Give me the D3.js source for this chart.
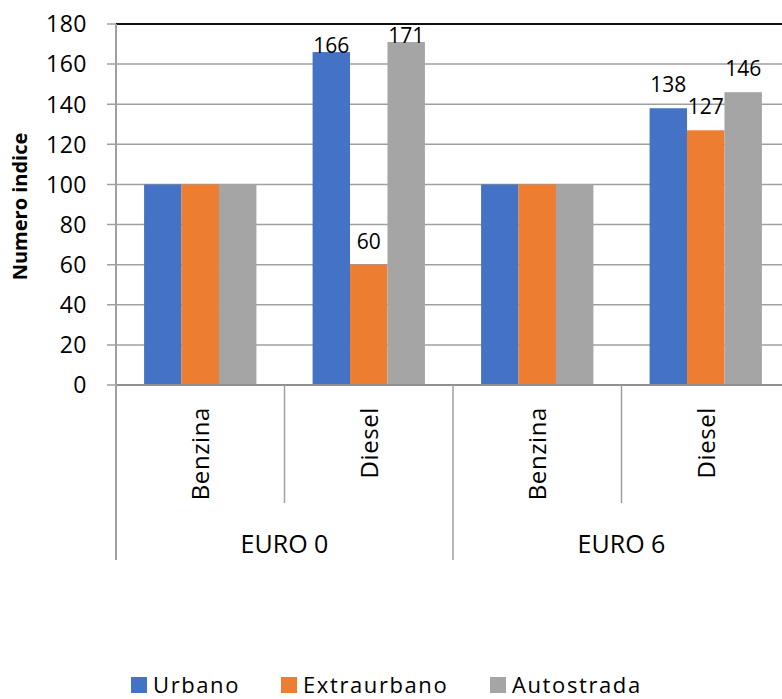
<!DOCTYPE html>
<html>
<head>
<meta charset="utf-8">
<script src="https://cdn.jsdelivr.net/npm/d3@7"></script>
<style>
  html, body { margin: 0; padding: 0; background: #fff; }
  svg { display: block; }
  text { font-family: "Open Sans", sans-serif; fill: #000; }
</style>
</head>
<body>
<svg id="chart" width="782" height="699"></svg>
<script>
// Emission index (base 100 = petrol) by standard, fuel and driving cycle
const groups = ["EURO 0", "EURO 6"];
const fuels = ["Benzina", "Diesel"];
const series = ["Urbano", "Extraurbano", "Autostrada"];
const urbano = [100, 166, 100, 138];
const extraurbano = [100, 60, 100, 127];
const autostrada = [100, 171, 100, 146];
const yTicks = [0, 20, 40, 60, 80, 100, 120, 140, 160, 180];
const colors = ["#4472C4", "#ED7D31", "#A5A5A5"];

const categories = groups.flatMap(g => fuels.map(f => g + "|" + f));
const values = [urbano, extraurbano, autostrada];

const svg = d3.select("#chart");
const plotLeft = 116, plotRight = 790, plotTop = 24, plotBottom = 385;

const x = d3.scaleBand().domain(categories).range([plotLeft, plotRight]).paddingInner(0).paddingOuter(0);
const bandInner = x.bandwidth() / 4.5 * 3; // gap width 150%
const xs = d3.scaleBand().domain(series).range([0, bandInner]);
const y = d3.scaleLinear().domain([0, 180]).range([plotBottom, plotTop]);

// horizontal gridlines with ticks extending left
const grid = svg.append("g");
grid.selectAll("line").data(yTicks).join("line")
  .attr("x1", plotLeft - 9).attr("x2", 782)
  .attr("y1", d => y(d)).attr("y2", d => y(d))
  .attr("stroke", "#A0A0A0").attr("stroke-width", 1.5);
// top gridline drawn darker inside the plot
grid.append("line")
  .attr("x1", plotLeft).attr("x2", 782)
  .attr("y1", y(180)).attr("y2", y(180))
  .attr("stroke", "#111").attr("stroke-width", 1.8);

// y axis labels
svg.append("g").selectAll("text").data(yTicks).join("text")
  .attr("x", 87).attr("y", d => y(d))
  .attr("dy", "0.36em")
  .attr("text-anchor", "end")
  .style("font-size", "23px")
  .style("letter-spacing", "0.5px")
  .text(d => d);

// y axis title
svg.append("text")
  .attr("transform", `translate(27,${(plotTop + plotBottom) / 2 + 2}) rotate(-90)`)
  .attr("text-anchor", "middle")
  .style("font-size", "20px").style("font-weight", "bold")
  .text("Numero indice");

// bars
const barData = [];
categories.forEach((c, i) => {
  series.forEach((s, k) => {
    barData.push({ cat: c, series: s, k, value: values[k][i] });
  });
});
const gap = (x.bandwidth() - bandInner) / 2;
svg.append("g").selectAll("rect").data(barData).join("rect")
  .attr("x", d => x(d.cat) + gap + xs(d.series))
  .attr("y", d => y(d.value))
  .attr("width", xs.bandwidth())
  .attr("height", d => y(0) - y(d.value))
  .attr("fill", d => colors[d.k]);

// data labels above bars that differ from the base index
const labelSize = 21;
svg.append("g").selectAll("text").data(barData.filter(d => d.value !== 100)).join("text")
  .attr("x", d => x(d.cat) + gap + xs(d.series) + xs.bandwidth() / 2)
  .attr("y", d => {
    const top = y(d.value);
    const lifted = top - 16;
    return (lifted - labelSize * 0.72 < plotTop) ? top + 1 : lifted;
  })
  .attr("text-anchor", "middle")
  .style("font-size", labelSize + "px")
  .text(d => d.value);

// axis lines
svg.append("line")
  .attr("x1", plotLeft).attr("x2", 782)
  .attr("y1", plotBottom).attr("y2", plotBottom)
  .attr("stroke", "#909090").attr("stroke-width", 2);
svg.append("line")
  .attr("x1", plotLeft).attr("x2", plotLeft)
  .attr("y1", plotTop).attr("y2", 560)
  .attr("stroke", "#A0A0A0").attr("stroke-width", 2);

// multi-level category axis
const cats = svg.append("g");
cats.selectAll("line.fuel").data(categories.filter((c, i) => i % 2 === 1)).join("line")
  .attr("class", "fuel")
  .attr("x1", d => x(d)).attr("x2", d => x(d))
  .attr("y1", plotBottom).attr("y2", 503)
  .attr("stroke", "#A0A0A0").attr("stroke-width", 1.5);
cats.selectAll("line.grp").data(categories.filter((c, i) => i % 2 === 0 && i > 0)).join("line")
  .attr("class", "grp")
  .attr("x1", d => x(d)).attr("x2", d => x(d))
  .attr("y1", plotBottom).attr("y2", 560)
  .attr("stroke", "#A0A0A0").attr("stroke-width", 1.5);

cats.selectAll("text.fuel").data(categories).join("text")
  .attr("class", "fuel")
  .attr("transform", d => `translate(${x(d) + x.bandwidth() / 2 + 9},407) rotate(-90)`)
  .attr("text-anchor", "end")
  .style("font-size", "24px")
  .style("letter-spacing", "0.6px")
  .text(d => d.split("|")[1]);

cats.selectAll("text.grp").data(groups).join("text")
  .attr("class", "grp")
  .attr("x", g => x(g + "|" + fuels[0]) + x.bandwidth())
  .attr("y", 553)
  .attr("text-anchor", "middle")
  .style("font-size", "25px")
  .text(g => g);

// legend
const legendX = [131, 281, 490];
const legend = svg.append("g").selectAll("g").data(series).join("g")
  .attr("transform", (d, i) => `translate(${legendX[i]},677)`);
legend.append("rect").attr("width", 16).attr("height", 16)
  .attr("fill", (d, i) => colors[i]);
legend.append("text")
  .attr("x", 22).attr("y", 16)
  .style("font-size", "22px")
  .style("letter-spacing", "1.6px")
  .text(d => d);
</script>
</body>
</html>
